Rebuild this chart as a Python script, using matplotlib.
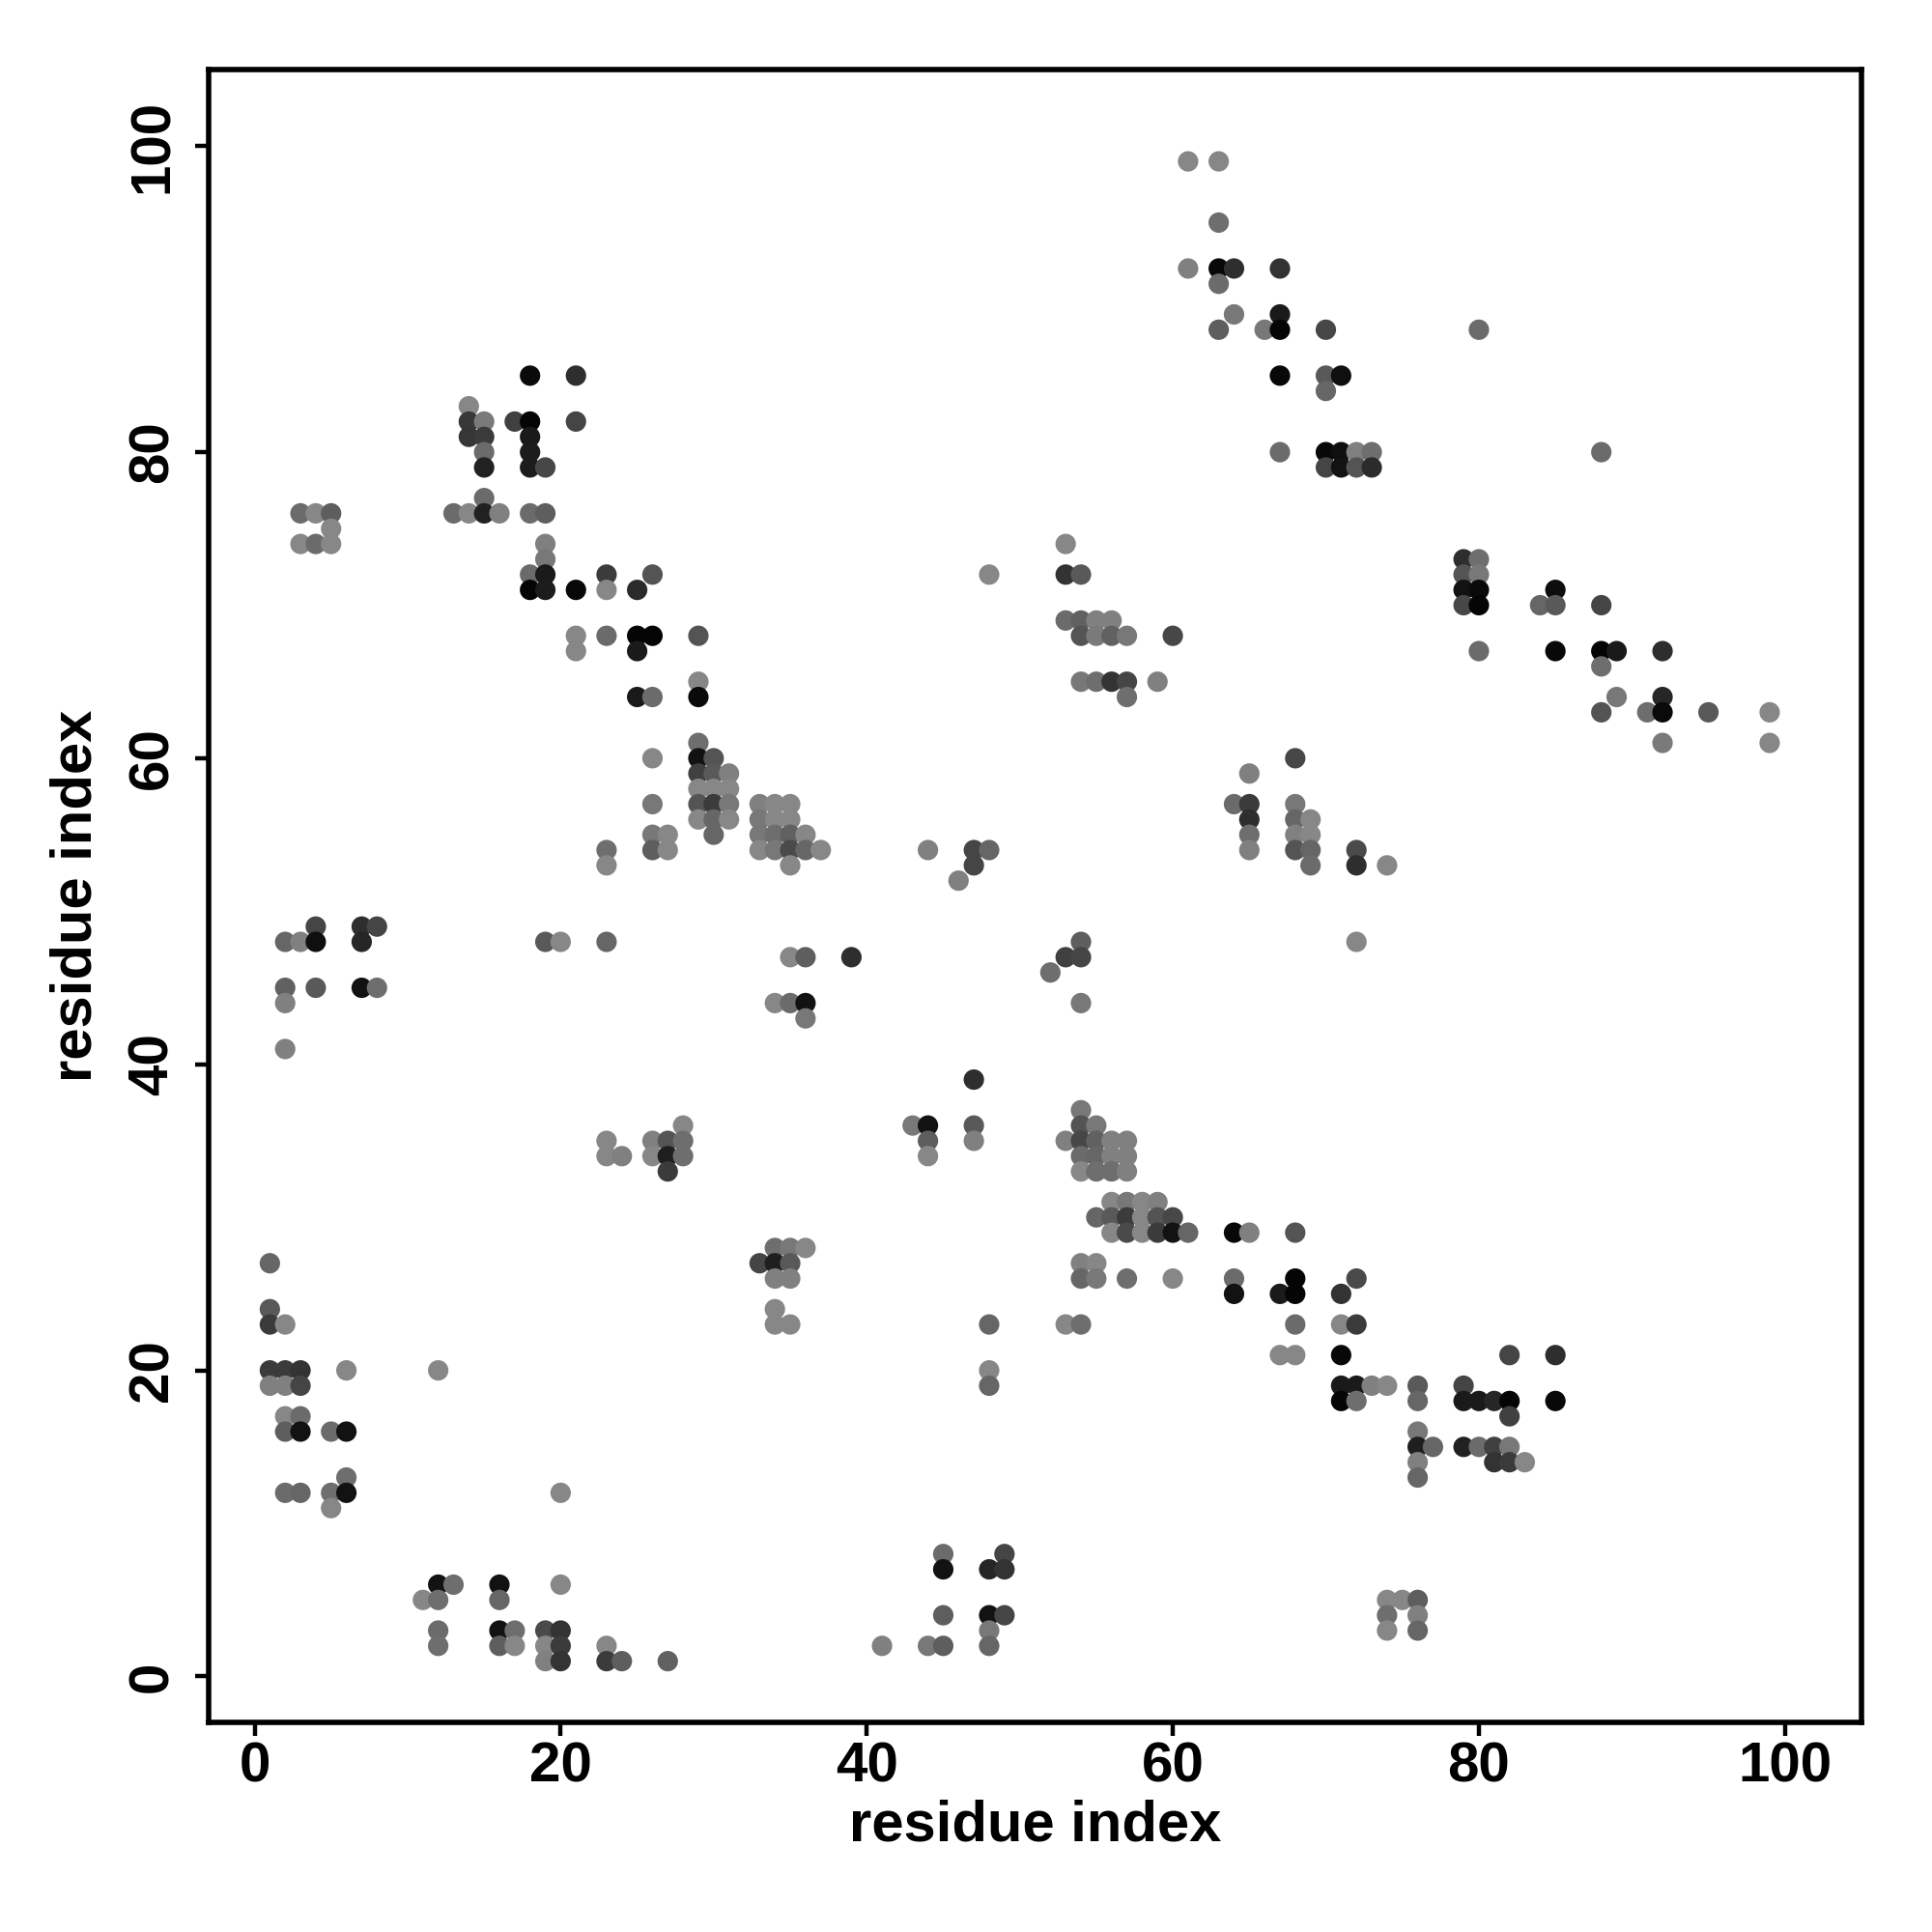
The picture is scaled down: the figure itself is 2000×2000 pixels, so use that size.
import matplotlib
matplotlib.use("Agg")
import matplotlib.pyplot as plt

plt.rcParams['font.family'] = ['Liberation Sans', 'DejaVu Sans']
plt.rcParams['font.weight'] = 'bold'

# contact list: residue i, residue j, grey level (0 = black, 1 = white)
res_i = [
    18,21,14,14,15,17,18,21,14,15,18,15,18,15,18,19,15,
    3,4,5,13,14,15,16,18,19,5,3,4,5,19,19,18,19,23,26,48,
    18,19,21,23,25,21,23,25,26,29,21,25,
    61,63,63,61,63,64,67,63,64,67,63,66,67,70,67,70,71,70,
    67,70,71,72,73,70,71,72,73,53,53,54,53,54,55,56,54,55,56,57,60,
    80,88,79,80,79,80,79,80,85,79,80,84,85,88,80,85,88,89,92,88,
    89,92,88,91,92,95,99,92,99,
    23,23,4,7,8,2,3,4,7,19,20,23,2,4,7,8,2,2,23,23,24,
    25,26,29,29,26,29,29,30,29,30,31,29,30,31,29,30,31,26,29,30,31,
    30,26,27,26,27,33,34,35,33,34,35,33,34,35,36,33,34,35,36,37,35,
    44,47,48,47,46,35,36,39,34,35,36,36,47,43,44,47,44,47,44,
    26,27,28,28,26,27,28,27,
    54,55,56,57,59,57,68,65,64,65,65,65,65,68,68,69,68,69,68,69,69,
    72,72,74,72,54,53,54,52,54,54,54,55,53,54,55,56,57,54,55,56,57,
    54,55,56,57,
    56,57,58,59,55,56,57,58,59,60,56,57,58,59,60,61,64,65,68,
    54,55,54,55,57,60,64,68,72,64,67,68,71,53,54,68,71,72,67,68,71,
    71,72,73,74,71,72,74,75,74,74,
    82,85,76,79,76,79,80,81,82,85,82,76,76,77,79,80,81,82,76,81,82,83,
    76,76,76,76,
    1,1,1,2,1,2,3,6,12,1,2,3,2,3,2,3,5,6,6,2,3,5,6,5,20,
    12,13,11,12,16,16,20,12,12,16,17,16,17,19,20,19,20,19,20,23,23,24,
    34,35,36,33,34,35,34,35,34,34,35,48,48,48,45,45,49,48,49,45,48,49,
    48,48,41,44,45,27,
]
res_j = [
    85,85,83,82,82,82,82,82,81,81,81,80,80,79,79,79,77,
    76,76,76,76,76,76,76,76,76,75,74,74,74,74,73,72,72,72,72,72,
    71,71,71,71,71,68,68,68,68,68,67,67,
    99,99,95,92,92,92,92,91,89,89,88,88,88,88,85,85,85,84,
    80,80,80,80,80,79,79,79,79,74,72,72,69,69,69,69,68,68,68,68,68,
    88,80,73,73,72,72,71,71,71,70,70,70,70,70,67,67,67,67,67,66,
    64,64,63,63,63,63,63,61,61,
    54,53,49,49,49,48,48,48,48,48,48,48,45,45,45,45,44,41,35,34,34,
    64,64,65,64,60,61,60,60,59,59,59,58,58,58,57,57,57,57,56,56,56,
    55,55,55,54,54,57,57,57,56,56,56,55,55,55,55,54,54,54,54,54,53,
    54,54,54,53,52,47,47,47,44,44,44,43,39,36,36,36,35,35,34,
    35,35,36,35,34,34,34,33,
    65,65,65,65,65,64,60,59,57,57,56,55,54,57,56,56,55,55,54,54,53,
    54,53,53,48,48,47,47,46,44,37,36,36,35,35,35,35,35,34,34,34,34,
    33,33,33,33,
    31,31,31,31,30,30,30,30,30,30,29,29,29,29,29,29,29,29,29,
    27,27,26,26,26,26,26,26,26,25,25,25,25,23,23,23,23,23,21,21,21,
    19,19,19,19,18,18,5,5,4,3,
    21,21,19,19,18,18,18,18,18,18,17,16,15,15,15,15,15,15,14,14,14,14,
    13,5,4,3,
    27,24,23,23,20,20,20,20,20,19,19,19,17,17,16,16,16,16,13,12,12,12,12,11,12,
    6,6,5,5,6,5,6,3,2,3,3,2,2,3,3,2,2,1,1,2,1,1,
    28,28,28,27,27,27,26,26,24,23,23,23,20,19,8,7,8,7,7,4,4,4,
    3,2,2,2,2,1,
]
grey = [
    0.04,0.18,0.53,0.22,0.48,0.25,0.02,0.27,0.21,0.23,0.10,0.42,0.11,0.13,0.11,0.28,0.42,
    0.42,0.53,0.37,0.42,0.53,0.13,0.50,0.42,0.37,0.53,0.53,0.42,0.53,0.50,0.47,0.42,0.10,0.23,0.33,0.53,
    0.02,0.11,0.03,0.53,0.17,0.53,0.42,0.02,0.02,0.33,0.53,0.10,
    0.53,0.53,0.43,0.50,0.03,0.18,0.20,0.42,0.47,0.10,0.37,0.47,0.02,0.28,0.03,0.35,0.06,0.40,
    0.42,0.03,0.06,0.50,0.43,0.27,0.07,0.33,0.17,0.53,0.20,0.35,0.42,0.38,0.50,0.50,0.33,0.48,0.38,0.47,0.28,
    0.42,0.42,0.18,0.43,0.33,0.47,0.07,0.04,0.05,0.28,0.02,0.40,0.35,0.27,0.42,0.03,0.02,0.10,0.18,0.43,
    0.47,0.15,0.33,0.43,0.04,0.35,0.53,0.48,0.53,
    0.43,0.53,0.27,0.18,0.27,0.40,0.50,0.06,0.15,0.35,0.53,0.40,0.38,0.35,0.07,0.43,0.50,0.50,0.53,0.53,0.50,
    0.10,0.42,0.53,0.04,0.53,0.43,0.07,0.33,0.25,0.35,0.50,0.53,0.53,0.53,0.33,0.23,0.47,0.47,0.53,0.40,0.53,
    0.40,0.47,0.53,0.37,0.53,0.50,0.53,0.53,0.47,0.53,0.53,0.47,0.43,0.38,0.53,0.53,0.47,0.29,0.40,0.53,0.53,
    0.50,0.27,0.40,0.27,0.50,0.53,0.37,0.18,0.53,0.42,0.07,0.47,0.18,0.47,0.07,0.35,0.37,0.50,0.53,
    0.50,0.33,0.53,0.43,0.53,0.12,0.43,0.23,
    0.47,0.43,0.20,0.27,0.50,0.43,0.28,0.50,0.42,0.23,0.18,0.43,0.50,0.47,0.40,0.53,0.50,0.53,0.33,0.40,0.42,
    0.29,0.18,0.53,0.53,0.37,0.25,0.27,0.43,0.47,0.47,0.33,0.47,0.50,0.28,0.38,0.50,0.50,0.42,0.40,0.50,0.50,
    0.53,0.43,0.43,0.50,
    0.53,0.47,0.53,0.50,0.40,0.35,0.23,0.53,0.33,0.28,0.53,0.29,0.53,0.23,0.07,0.40,0.03,0.50,0.33,
    0.50,0.53,0.40,0.47,0.43,0.53,0.42,0.02,0.29,0.07,0.10,0.02,0.20,0.53,0.43,0.42,0.53,0.23,0.53,0.53,0.03,
    0.10,0.10,0.50,0.53,0.02,0.43,0.53,0.53,0.43,0.53,
    0.27,0.18,0.35,0.27,0.40,0.10,0.10,0.15,0.02,0.03,0.25,0.47,0.12,0.40,0.13,0.42,0.25,0.47,0.50,0.20,0.23,0.53,
    0.40,0.37,0.50,0.40,
    0.40,0.35,0.23,0.53,0.23,0.23,0.20,0.53,0.53,0.50,0.50,0.27,0.53,0.42,0.37,0.07,0.42,0.07,0.43,0.42,0.40,0.43,0.07,0.53,0.53,
    0.07,0.43,0.53,0.43,0.07,0.40,0.53,0.42,0.43,0.07,0.43,0.37,0.53,0.29,0.20,0.53,0.23,0.50,0.20,0.53,0.23,0.37,
    0.43,0.47,0.53,0.27,0.12,0.35,0.50,0.50,0.53,0.53,0.53,0.40,0.53,0.40,0.42,0.07,0.27,0.15,0.20,0.37,0.07,0.27,
    0.47,0.40,0.50,0.47,0.37,0.38,
]

x_ticks = [0, 20, 40, 60, 80, 100]
y_ticks = [0, 20, 40, 60, 80, 100]

fig = plt.figure(figsize=(10, 10), dpi=200)
ax = fig.add_axes([0.108, 0.1085, 0.8555, 0.8555])

colors = [(g, g, g) for g in grey]
ax.scatter(res_i, res_j, s=58, c=colors, linewidths=0, zorder=3)

ax.set_xlim(-3, 105)
ax.set_ylim(-3, 105)
ax.set_xticks(x_ticks)
ax.set_yticks(y_ticks)
ax.set_xticklabels([str(t) for t in x_ticks], fontsize=21, fontweight='bold')
ax.set_yticklabels([str(t) for t in y_ticks], fontsize=21, fontweight='bold',
                   rotation=90, va='center')
ax.tick_params(axis='both', length=5, width=1.6, direction='out')
ax.tick_params(axis='x', pad=2)
ax.tick_params(axis='y', pad=6)
for sp in ax.spines.values():
    sp.set_linewidth(2.0)
ax.set_xlabel('residue index', fontsize=21.5, fontweight='bold', labelpad=2)
ax.set_ylabel('residue index', fontsize=21.5, fontweight='bold', labelpad=9)

fig.savefig('out.png', dpi=200, facecolor='white')
